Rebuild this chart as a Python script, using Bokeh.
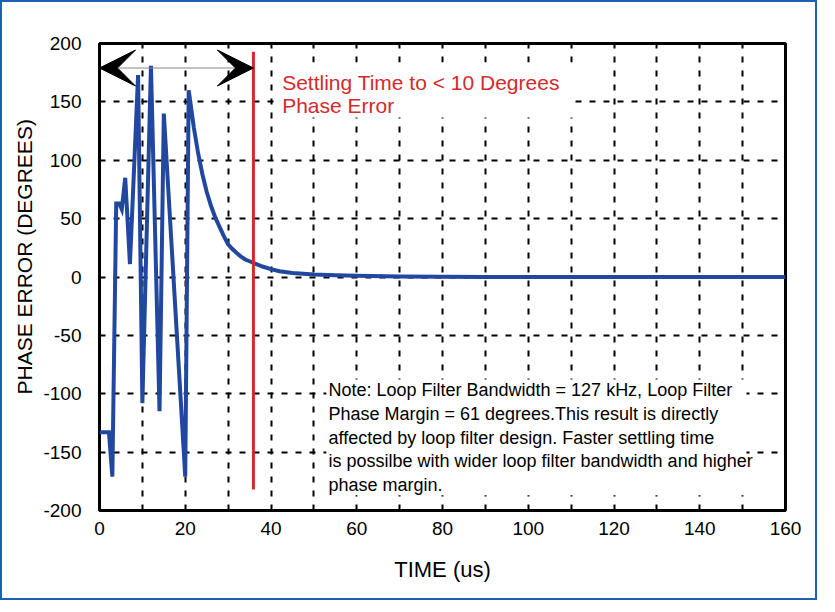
from bokeh.plotting import figure
from bokeh.models import Label, Arrow, VeeHead, Range1d, FixedTicker, BoxAnnotation, ColumnDataSource, Title
from bokeh.embed import file_html
from bokeh.resources import INLINE

# ---- data ----
time_us = [0, 2.2, 3.0, 3.9, 4.6, 5.2, 6.0, 7.1, 9.0, 10.0, 12.0, 14.0, 15.0, 20.0, 20.8,
           22, 23, 24, 25, 26, 27, 28, 29, 30, 31, 32, 33, 34, 35, 36, 38, 40, 42, 45,
           50, 55, 60, 70, 80, 90, 100, 120, 140, 160]
phase_err_deg = [-133, -133, -171, 63, 63, 58, 85, 11, 173, -108, 181, -115, 140, -171, 160,
                 128, 106, 88, 73, 61, 51, 43, 35, 28, 24, 20.5, 17.5, 15, 13.5, 12, 9, 6.7, 5, 3.5,
                 2.2, 1.5, 1.0, 0.5, 0.3, 0.1, 0, 0, 0, 0]

x_ticks = [0, 20, 40, 60, 80, 100, 120, 140, 160]
y_ticks = [-200, -150, -100, -50, 0, 50, 100, 150, 200]
x_grid = [10, 20, 30, 40, 50, 60, 70, 80, 90, 100, 110, 120, 130, 140, 150]
y_grid = [-150, -100, -50, 0, 50, 100, 150]

settle_time_us = 35.9
settle_line_span = [-182, 193]
arrow_level_deg = 179

FONT = "Liberation Sans"
BLUE = "#2147a0"
RED = "#d42a2c"

p = figure(width=817, height=600, x_range=Range1d(0, 160), y_range=Range1d(-200, 200),
           output_backend="svg", toolbar_location=None,
           min_border_left=97, min_border_top=41, min_border_right=34, min_border_bottom=92)
p.styles = {"border": "2px solid #1d5fb2"}
p.background_fill_color = "white"
p.border_fill_color = "white"
p.outline_line_color = "black"
p.outline_line_width = 3

# grid
p.xgrid.ticker = FixedTicker(ticks=x_grid)
p.ygrid.ticker = FixedTicker(ticks=y_grid)
for g in (p.xgrid, p.ygrid):
    g.grid_line_color = "black"
    g.grid_line_width = 2
    g.grid_line_dash = "6 8"

# axes
p.xaxis.ticker = FixedTicker(ticks=x_ticks)
p.yaxis.ticker = FixedTicker(ticks=y_ticks)
p.yaxis.major_label_overrides = {t: str(t) for t in y_ticks}
p.xaxis.major_label_overrides = {t: str(t) for t in x_ticks}
for ax in (p.xaxis, p.yaxis):
    ax.axis_line_color = None
    ax.major_tick_line_color = None
    ax.minor_tick_line_color = None
    ax.major_tick_in = 0
    ax.major_tick_out = 0
    ax.major_label_text_font = FONT
    ax.major_label_text_font_size = "19px"
    ax.major_label_text_color = "black"
p.xaxis.major_label_standoff = 11
p.yaxis.major_label_standoff = 18
p.xaxis.axis_label = "TIME (us)"
p.xaxis.axis_label_text_font = FONT
p.xaxis.axis_label_text_font_size = "22px"
p.xaxis.axis_label_text_font_style = "normal"
p.xaxis.axis_label_text_color = "black"
p.xaxis.axis_label_standoff = 19

p.add_layout(Title(text="PHASE ERROR (DEGREES)", align="left", offset=116, standoff=10,
                   text_font=FONT, text_font_size="21px", text_font_style="normal",
                   text_color="black"), "left")

# curve
src = ColumnDataSource(dict(t=time_us, e=phase_err_deg))
p.line("t", "e", source=src, line_color=BLUE, line_width=4, line_join="miter")

# settling marker
p.segment(x0=[settle_time_us], y0=[settle_line_span[0]], x1=[settle_time_us], y1=[settle_line_span[1]],
          line_color=RED, line_width=3)

p.add_layout(Arrow(x_start=0, y_start=arrow_level_deg, x_end=settle_time_us, y_end=arrow_level_deg,
                   line_color="#8a8a8a", line_width=1,
                   start=VeeHead(size=36, fill_color="black", line_color="black"),
                   end=VeeHead(size=36, fill_color="black", line_color="black")))

# red caption with white background
p.add_layout(BoxAnnotation(left=41.3, right=110.8, top=183.7, bottom=136.6,
                           fill_color="white", fill_alpha=1, line_color=None))
p.add_layout(Label(x=42.6, y=167, text="Settling Time to < 10 Degrees",
                   text_font=FONT, text_font_size="21px", text_color=RED, text_baseline="alphabetic"))
p.add_layout(Label(x=42.6, y=146.5, text="Phase Error",
                   text_font=FONT, text_font_size="21px", text_color=RED, text_baseline="alphabetic"))

# note with white background
p.add_layout(BoxAnnotation(left=52.9, right=150.9, top=-87.8, bottom=-187,
                           fill_color="white", fill_alpha=1, line_color=None))
note = ("Note: Loop Filter Bandwidth = 127 kHz, Loop Filter\n"
        "Phase Margin = 61 degrees.This result is directly\n"
        "affected by loop filter design. Faster settling time\n"
        "is possilbe with wider loop filter bandwidth and higher\n"
        "phase margin.")
p.add_layout(Label(x=53.4, y=-88.5, text=note, text_font=FONT, text_font_size="18px",
                   text_color="black", text_baseline="top", text_align="left",
                   text_line_height=1.18))

open("out.html", "w").write(file_html(p, INLINE))
